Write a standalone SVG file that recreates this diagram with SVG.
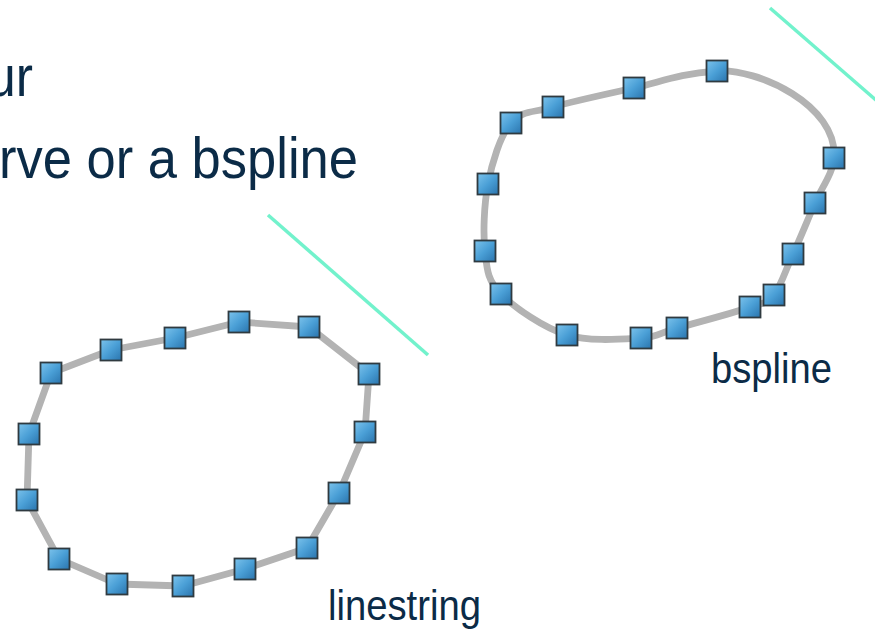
<svg xmlns="http://www.w3.org/2000/svg" width="875" height="633" viewBox="0 0 875 633">
<defs>
<linearGradient id="sq" x1="0" y1="0" x2="1" y2="1">
<stop offset="0" stop-color="#7cc3ec"/>
<stop offset="0.5" stop-color="#4a9fd6"/>
<stop offset="1" stop-color="#2a74ad"/>
</linearGradient>
<rect id="v" x="-10.5" y="-10.5" width="21" height="21" fill="url(#sq)" stroke="#2f3a40" stroke-width="1.8"/>
</defs>
<style>
.t{font-family:"Liberation Sans",Arial,sans-serif;fill:#0b2b47}
.geom{fill:none;stroke:#b3b3b3;stroke-width:6.8;stroke-linejoin:round}
.cyan{stroke:#72f2cc;stroke-width:3.5;fill:none}
</style>
<rect width="875" height="633" fill="#ffffff"/>
<g id="title">
<text class="t" x="-13" y="96" font-size="57" textLength="46" lengthAdjust="spacingAndGlyphs">ur</text>
<text class="t" x="-1" y="178" font-size="57" textLength="359" lengthAdjust="spacingAndGlyphs">rve or a bspline</text>
</g>
<g id="connectors">
<line class="cyan" x1="268" y1="215" x2="428" y2="355"/>
<line class="cyan" x1="770" y1="8" x2="877" y2="101"/>
<polygon id="linestring-line" class="geom" points="51,373 111,350 175,338 239,322 309,327 369,374 365,432 339,493 307,548 245,569 183,586 117,584 59,559 27,500 29,434"/>
<path id="bspline-line" class="geom" d="M717,71 C757,68 838,105 834,158 C833,173 822,187 815,203 C808,219 800,239 793,254 C786,269 781,286 774,295 C767,304 766,302 750,307 C734,313 695,323 677,328 C659,333 659,337 641,338 C623,339 590,342 567,335 C544,328 515,308 501,294 C487,280 487,269 485,251 C483,233 484,205 488,184 C492,163 500,136 511,123 C522,110 533,113 553,107 C574,101 607,94 634,88 C661,82 677,74 717,71 Z"/>
</g>
<g id="linestring">
<use href="#v" x="51" y="373"/>
<use href="#v" x="111" y="350"/>
<use href="#v" x="175" y="338"/>
<use href="#v" x="239" y="322"/>
<use href="#v" x="309" y="327"/>
<use href="#v" x="369" y="374"/>
<use href="#v" x="365" y="432"/>
<use href="#v" x="339" y="493"/>
<use href="#v" x="307" y="548"/>
<use href="#v" x="245" y="569"/>
<use href="#v" x="183" y="586"/>
<use href="#v" x="117" y="584"/>
<use href="#v" x="59" y="559"/>
<use href="#v" x="27" y="500"/>
<use href="#v" x="29" y="434"/>
<text class="t" x="328" y="620" font-size="42" textLength="153" lengthAdjust="spacingAndGlyphs">linestring</text>
</g>
<g id="bspline">
<use href="#v" x="717" y="71"/>
<use href="#v" x="834" y="158"/>
<use href="#v" x="815" y="203"/>
<use href="#v" x="793" y="254"/>
<use href="#v" x="774" y="295"/>
<use href="#v" x="750" y="307"/>
<use href="#v" x="677" y="328"/>
<use href="#v" x="641" y="338"/>
<use href="#v" x="567" y="335"/>
<use href="#v" x="501" y="294"/>
<use href="#v" x="485" y="251"/>
<use href="#v" x="488" y="184"/>
<use href="#v" x="511" y="123"/>
<use href="#v" x="553" y="107"/>
<use href="#v" x="634" y="88"/>
<text class="t" x="711" y="383" font-size="42" textLength="121" lengthAdjust="spacingAndGlyphs">bspline</text>
</g>
</svg>
